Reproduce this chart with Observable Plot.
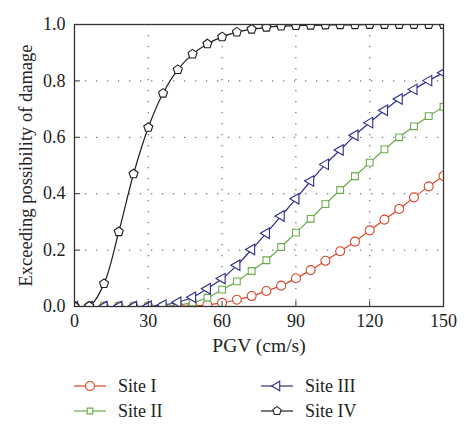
<!DOCTYPE html>
<html>
<head>
<meta charset="utf-8">
<script src="https://cdn.jsdelivr.net/npm/d3@7"></script>
<script src="https://cdn.jsdelivr.net/npm/@observablehq/plot@0.6"></script>
<style>
  body { margin: 0; background: #fff; font-family: "Liberation Serif", serif; }
  #legend { position: relative; width: 474px; height: 70px; }
  .item { position: absolute; display: flex; align-items: center; font-size: 18px; color: #222; }
  .item svg { margin-right: 11px; }
</style>
</head>
<body>
<div id="chart"></div>
<div id="legend"></div>
<script>
const pgv = [0,6,12,18,24,30,36,42,48,54,60,66,72,78,84,90,96,102,108,114,120,126,132,138,144,150];
const siteI   = [0,0,0,0,0,0,0,0.001,0.002,0.006,0.013,0.024,0.037,0.055,0.074,0.100,0.129,0.162,0.196,0.230,0.270,0.308,0.346,0.387,0.426,0.463];
const siteII  = [0,0,0,0,0,0,0.001,0.005,0.014,0.031,0.060,0.089,0.126,0.164,0.211,0.262,0.311,0.363,0.413,0.462,0.510,0.557,0.600,0.639,0.675,0.708];
const siteIII = [0,0,0,0,0,0.001,0.005,0.015,0.033,0.063,0.099,0.146,0.202,0.260,0.321,0.382,0.445,0.504,0.555,0.607,0.652,0.696,0.736,0.770,0.801,0.829];
const siteIV  = [0,0.001,0.081,0.265,0.470,0.635,0.756,0.840,0.895,0.931,0.956,0.973,0.983,0.990,0.994,0.996,0.997,0.998,0.999,0.999,1,1,1,1,1,1];
const seriesNames = ["Site I","Site II","Site III","Site IV"];
const xTicks = [0,30,60,90,120,150];
const yTicks = [0,0.2,0.4,0.6,0.8,1.0];
const xLabel = "PGV (cm/s)";
const yLabel = "Exceeding possibility of damage";

const pentagon = {
  draw(context, size) {
    const r = Math.sqrt(size / Math.PI) * 1.1;
    for (let k = 0; k < 5; k++) {
      const a = -Math.PI / 2 + k * 2 * Math.PI / 5;
      const x = r * Math.cos(a), y = r * Math.sin(a);
      if (k === 0) context.moveTo(x, y); else context.lineTo(x, y);
    }
    context.closePath();
  }
};
const styles = [
  {color: "#d8482a", symbol: "circle", d3sym: d3.symbolCircle, rotate: 0, r: 4.5, lr: 4.5},
  {color: "#6aab4b", symbol: "square", d3sym: d3.symbolSquare, rotate: 0, r: 3.8, lr: 3.2},
  {color: "#2c2c8c", symbol: "triangle", d3sym: d3.symbolTriangle, rotate: -90, r: 3.9, lr: 3.5},
  {color: "#1e1e1e", symbol: pentagon, d3sym: pentagon, rotate: 0, r: 4.3, lr: 4}
];
const values = [siteI, siteII, siteIII, siteIV];
const data = values.map((vals, i) => pgv.map((x, j) => ({x, y: vals[j], site: seriesNames[i]})));

const marks = [
  Plot.ruleX([30,60,90,120], {stroke: "#777", strokeWidth: 1.3, strokeDasharray: "1.3,9.7"}),
  Plot.ruleY([0.2,0.4,0.6,0.8], {stroke: "#777", strokeWidth: 1.3, strokeDasharray: "1.3,9.7"})
];
data.forEach((d, i) => {
  const s = styles[i];
  marks.push(Plot.line(d, {x: "x", y: "y", stroke: s.color, strokeWidth: 1.2, curve: "catmull-rom", clip: true}));
});
data.forEach((d, i) => {
  const s = styles[i];
  marks.push(Plot.dot(d, {x: "x", y: "y", symbol: () => s.symbol, r: s.r, rotate: s.rotate, stroke: s.color, strokeWidth: 1.1, fill: "white", clip: true}));
});
marks.push(
  Plot.frame({stroke: "#333", strokeWidth: 1.3}),
  Plot.axisX({ticks: xTicks, tickSize: -5, tickPadding: 13, tickFormat: d3.format("d"), fontSize: 18, label: null, stroke: "#333"}),
  Plot.axisY({ticks: yTicks, tickSize: -6, tickPadding: 15, tickFormat: d3.format(".1f"), fontSize: 18, label: null, stroke: "#333"}),
  Plot.text([xLabel], {frameAnchor: "bottom", dy: 45, fontSize: 19.5, fill: "#222"}),
  Plot.text([yLabel], {frameAnchor: "left", textAnchor: "middle", rotate: -90, dx: -48, fontSize: 18.5, fill: "#222"})
);

const chart = Plot.plot({
  width: 474,
  height: 365,
  marginLeft: 74,
  marginRight: 31,
  marginTop: 24,
  marginBottom: 59,
  style: {fontFamily: "Liberation Serif, serif", fontSize: "18px", color: "#222", background: "white"},
  x: {domain: [0,150]},
  y: {domain: [0,1]},
  marks
});
document.getElementById("chart").appendChild(chart);

// legend
const legend = document.getElementById("legend");
const pos = [[74, 21], [74, 46], [261, 21], [261, 46]];
seriesNames.forEach((name, i) => {
  const s = styles[i];
  const div = document.createElement("div");
  div.className = "item";
  div.style.left = pos[i][0] + "px";
  div.style.top = (pos[i][1] - 11) + "px";
  div.style.height = "22px";
  const sym = d3.symbol(s.d3sym, Math.PI * s.lr * s.lr)();
  div.innerHTML = `<svg width="33" height="14"><line x1="0" x2="32" y1="7" y2="7" stroke="${s.color}" stroke-width="1.2"/><path d="${sym}" transform="translate(16,7) rotate(${s.rotate})" fill="white" stroke="${s.color}" stroke-width="1.1"/></svg><span>${name}</span>`;
  legend.appendChild(div);
});
</script>
</body>
</html>
